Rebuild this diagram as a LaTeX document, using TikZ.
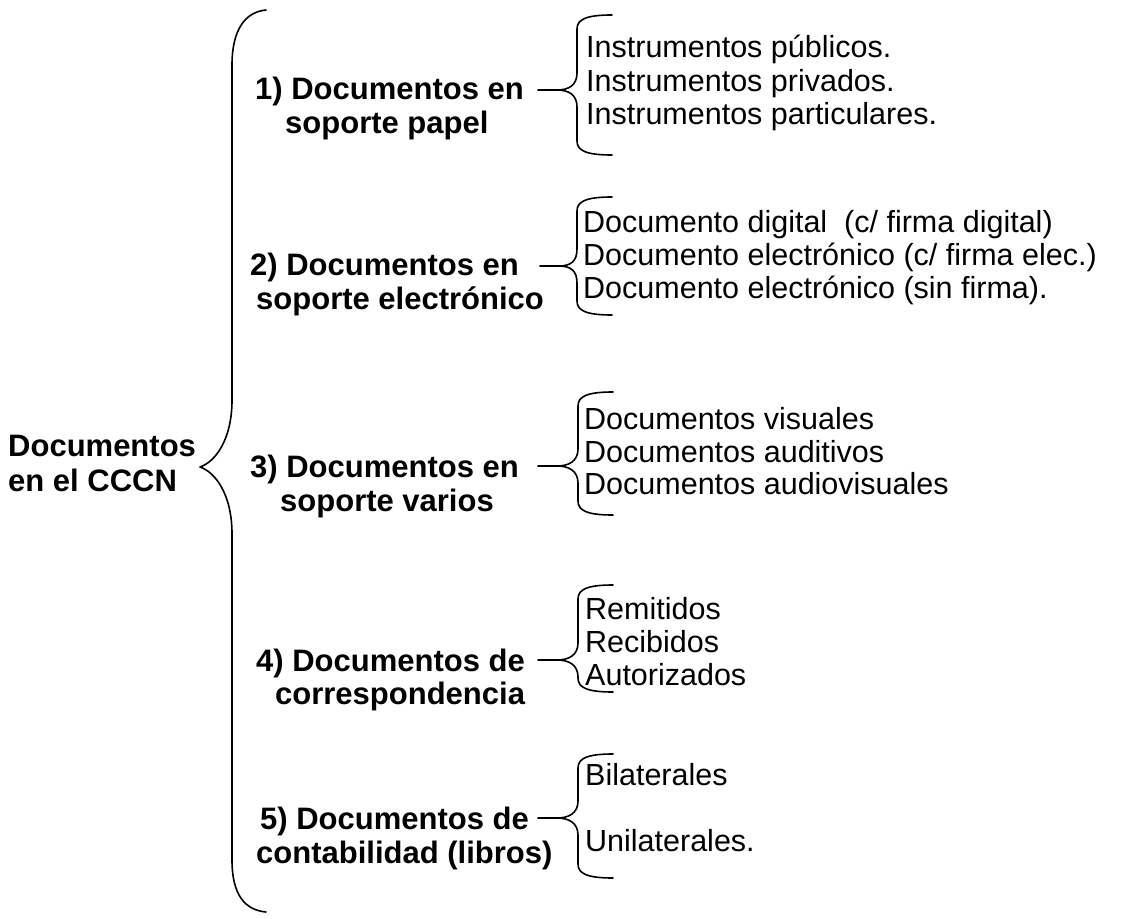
\documentclass[tikz,border=0pt]{standalone}
\usepackage{fontspec}
\setmainfont{Liberation Sans}
\begin{document}
\begin{tikzpicture}[x=1pt,y=-1pt,
  brace/.style={draw=black,line width=1.6pt,line cap=round,line join=round},
  item/.style={anchor=base west,inner sep=0pt,font=\fontsize{30.5}{34}\selectfont},
  lab/.style={anchor=base west,inner sep=0pt,font=\fontsize{31}{34}\selectfont\bfseries}]
\useasboundingbox[fill=white] (0,0) rectangle (1124,918);
\newcommand{\lbr}[5]{%
  \draw[brace] (#1,#2) -- (#1+19,#2) .. controls (#1+31,#2) and (#3,#2-5) .. (#3,#2-17) -- (#3,#4+14) .. controls (#3,#4+4) and (#3+10,#4) .. (#3+35,#4);
  \draw[brace] (#1+19,#2) .. controls (#1+31,#2) and (#3,#2+5) .. (#3,#2+17) -- (#3,#5-14) .. controls (#3,#5-4) and (#3+10,#5) .. (#3+35,#5);}
% main brace
\draw[brace] (266,10) .. controls (245,12) and (232,30) .. (232,65) -- (232,400) .. controls (232,440) and (215,462) .. (200,467) .. controls (215,472) and (232,494) .. (232,534) -- (232,860) .. controls (232,895) and (245,910) .. (266,912);
\node[lab] (root1) at (8,456) {Documentos};
\node[lab] (root2) at (8,491) {en el CCCN};
% group 1
\node[lab] (g1a) at (255,99) {1) Documentos en};
\node[lab] (g1b) at (285,133) {soporte papel};
\lbr{538}{90}{577}{15}{155}
\node[item] (i11) at (586,57) {Instrumentos públicos.};
\node[item] (i12) at (586,91) {Instrumentos privados.};
\node[item] (i13) at (586,124) {Instrumentos particulares.};
% group 2
\node[lab] (g2a) at (250,275) {2) Documentos en};
\node[lab] (g2b) at (256,309) {soporte electrónico};
\lbr{540}{266}{577}{197}{315}
\node[item] (i21) at (583,232) {Documento digital\ \ (c/ firma digital)};
\node[item] (i22) at (583,265) {Documento electrónico (c/ firma elec.)};
\node[item] (i23) at (583,298) {Documento electrónico (sin firma).};
% group 3
\node[lab] (g3a) at (250,477) {3) Documentos en};
\node[lab] (g3b) at (280,511) {soporte varios};
\lbr{538}{466}{578}{392}{515}
\node[item] (i31) at (584,429) {Documentos visuales};
\node[item] (i32) at (584,462) {Documentos auditivos};
\node[item] (i33) at (584,494) {Documentos audiovisuales};
% group 4
\node[lab] (g4a) at (256,671) {4) Documentos de};
\node[lab] (g4b) at (275,704) {correspondencia};
\lbr{538}{660}{578}{585}{692}
\node[item] (i41) at (585,619) {Remitidos};
\node[item] (i42) at (585,652) {Recibidos};
\node[item] (i43) at (585,685) {Autorizados};
% group 5
\node[lab] (g5a) at (260,829) {5) Documentos de};
\node[lab] (g5b) at (256,863) {contabilidad (libros)};
\lbr{538}{818}{578}{754}{878}
\node[item] (i51) at (585,785) {Bilaterales};
\node[item] (i52) at (585,851) {Unilaterales.};
\end{tikzpicture}
\end{document}
